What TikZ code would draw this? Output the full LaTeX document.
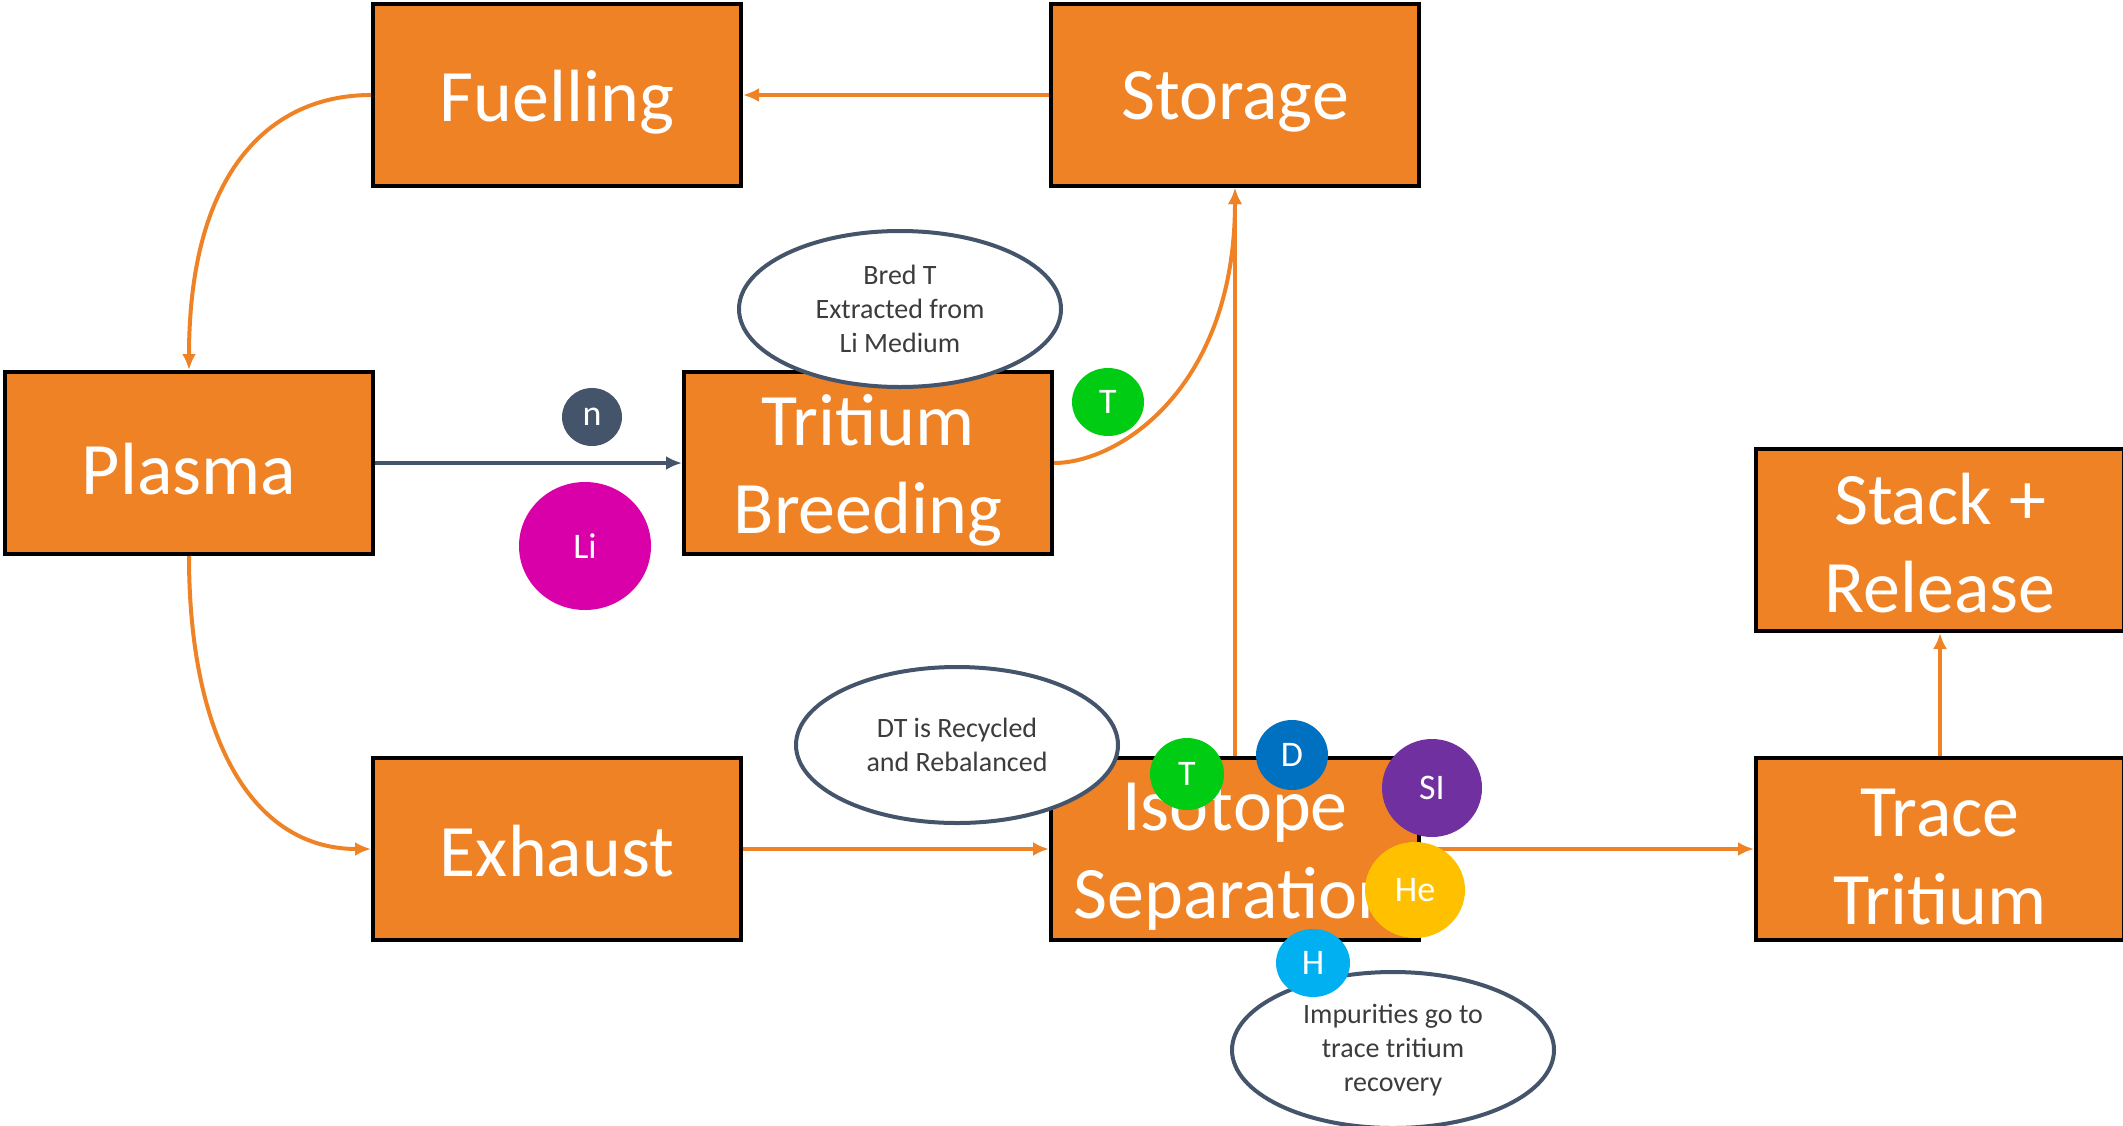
\documentclass[tikz,border=0pt]{standalone}
\usepackage{fontspec}
\setmainfont{Carlito}
\usetikzlibrary{shapes.geometric,arrows.meta}
\definecolor{boxorange}{RGB}{238,130,36}
\definecolor{slate}{RGB}{68,84,106}
\definecolor{notegray}{RGB}{60,60,60}
\definecolor{tgreen}{RGB}{0,204,20}
\definecolor{dblue}{RGB}{0,112,192}
\definecolor{sipurple}{RGB}{112,48,160}
\definecolor{heyellow}{RGB}{255,192,0}
\definecolor{hcyan}{RGB}{0,176,240}
\definecolor{limagenta}{RGB}{217,0,170}
\tikzset{
  stage/.style={draw=black, line width=2pt, fill=boxorange,
    minimum width=184pt, minimum height=91pt, inner sep=0pt},
  stagetext/.style={text=white, align=center,
    font=\fontsize{37}{44}\selectfont, inner sep=0pt},
  note/.style={ellipse, draw=slate, line width=2pt, fill=white, text=notegray,
    minimum width=161pt, minimum height=78pt, align=center,
    font=\fontsize{14}{17}\selectfont, inner sep=0pt},
  particle/.style={ellipse, fill=#1, text=white, inner sep=0pt,
    font=\fontsize{18}{18}\selectfont},
  flow/.style={draw=boxorange, line width=2pt, -{Latex[length=8pt,width=7pt]}},
  beam/.style={draw=slate, line width=2.2pt, -{Latex[length=8pt,width=7pt]}}
}
\begin{document}
\begin{tikzpicture}[x=0.5pt,y=-0.5pt]
\useasboundingbox (0,0) rectangle (2123,1125);

% process stages
\node[stage] (fuel)   at (557,95)   {};
\node[stage] (store)  at (1235,95)  {};
\node[stage] (plasma) at (189,463)  {};
\node[stage] (breed)  at (868,463)  {};
\node[stage] (stack)  at (1940,540) {};
\node[stage] (exh)    at (557,849)  {};
\node[stage] (iso)    at (1235,849) {};
\node[stage] (trace)  at (1940,849) {};

% stage labels
\node[stagetext] (fuel-t)   at ([yshift=-3.5pt]fuel.center)   {Fuelling};
\node[stagetext] (store-t)  at ([yshift=-3.5pt]store.center)  {Storage};
\node[stagetext] (plasma-t) at ([yshift=-3pt]plasma.center)   {Plasma};
\node[stagetext] (breed-t)  at ([yshift=-3.5pt]breed.center)  {Tritium\\Breeding};
\node[stagetext] (stack-t)  at ([yshift=-1.5pt]stack.center)  {Stack +\\Release};
\node[stagetext] (exh-t)    at ([yshift=-1pt]exh.center)      {Exhaust};
\node[stagetext] (iso-t)    at ([yshift=-4pt]iso.center)      {Isotope\\Separation};
\node[stagetext] (trace-t)  at ([yshift=-4pt]trace.center)    {Trace\\Tritium};

% flows between stages
\draw[flow] (store.west) -- (fuel.east);
\draw[flow] (fuel.west) .. controls +(-100,0) and +(0,-200) .. (plasma.north);
\draw[flow] (plasma.south) .. controls +(0,180) and +(-120,0) .. (exh.west);
\draw[beam] (plasma.east) -- (breed.west);
\draw[flow] (exh.east) -- (iso.west);
\draw[flow] (iso.north) -- (store.south);
\draw[flow] (iso.east) -- (trace.west);
\draw[flow] (trace.north) -- (stack.south);

% notes
\node[note] (bred)  at (900,309)  {Bred T\\Extracted from\\Li Medium};
\node[note] (dt)    at (957,745)  {DT is Recycled\\and Rebalanced};
\node[note] (impur) at (1393,1050) {Impurities go to\\trace tritium\\recovery};

% species markers
\node[particle=slate, minimum width=30pt, minimum height=29pt] (n) at (592,417) {n};
\node[particle=limagenta, minimum width=66pt, minimum height=64pt] (li) at (585,546) {Li};
\node[particle=tgreen, minimum width=36pt, minimum height=34pt] (t1) at (1108,402) {T};
\node[particle=tgreen, minimum width=37pt, minimum height=36pt] (t2) at (1187,774) {T};
\node[particle=dblue, minimum width=36pt, minimum height=35pt] (d) at (1292,755) {D};
\node[particle=sipurple, minimum width=50pt, minimum height=49pt] (si) at (1432,788) {SI};
\node[particle=heyellow, minimum width=50pt, minimum height=48pt] (he) at (1415,890) {He};
\node[particle=hcyan, minimum width=37pt, minimum height=34pt] (h) at (1313,963) {H};

% bred tritium sent to storage
\draw[flow] (breed.east) .. controls +(65,0) and +(0,200) .. (store.south);
\end{tikzpicture}
\end{document}
